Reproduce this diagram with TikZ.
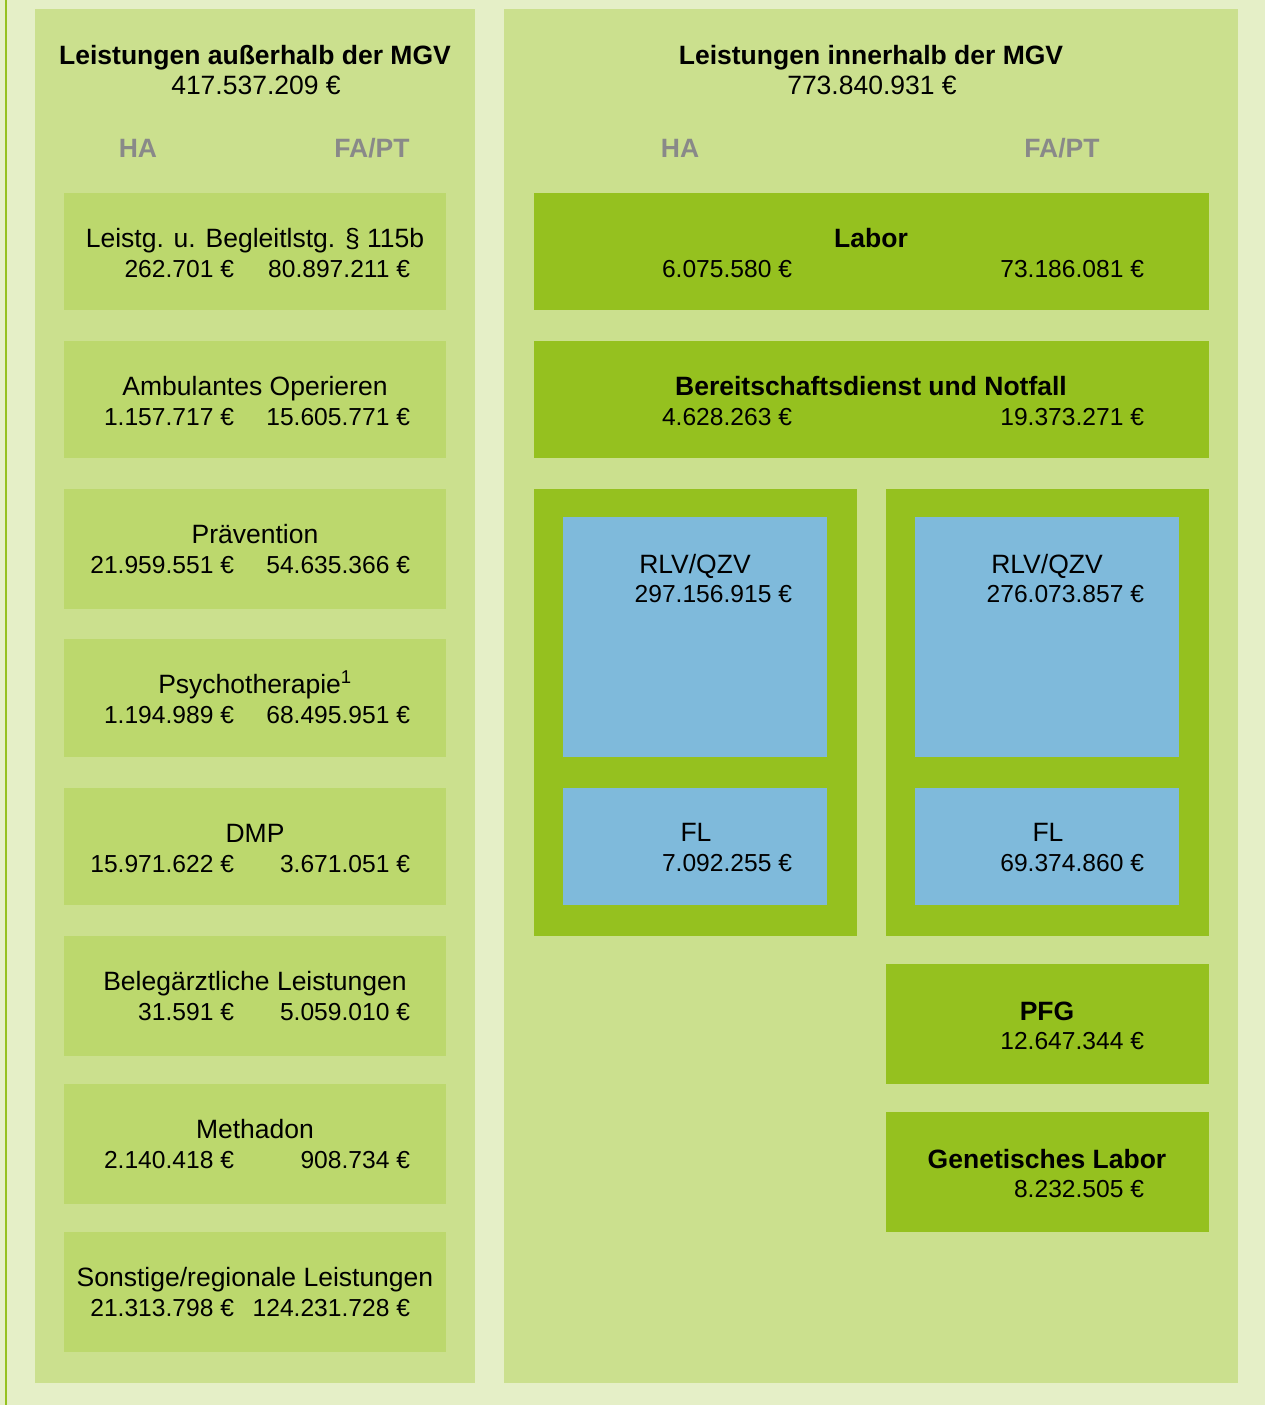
\documentclass[tikz,border=0pt]{standalone}
\usepackage{fontspec}
\setmainfont{Liberation Sans}
\definecolor{outerbg}{HTML}{E5EFC7}
\definecolor{panelbg}{HTML}{CBE08E}
\definecolor{leftbg}{HTML}{BCD86D}
\definecolor{dgreen}{HTML}{95C11F}
\definecolor{lblue}{HTML}{7FBADB}
\definecolor{hgray}{HTML}{898989}
\newcommand\mkleftbox[6]{%
  \node[lbox, minimum height=#3pt] (#1) at (64,#2) {};
  \node[txt, anchor=base] (#1-t) at (255,{#2+54}) {#4};
  \node[vtxt, anchor=base east] (#1-h) at (234,{#2+84}) {#5};
  \node[vtxt, anchor=base east] (#1-f) at (410,{#2+84}) {#6};
}
\begin{document}
\begin{tikzpicture}[x=1pt,y=-1pt,
  every node/.style={font=\fontsize{26.5}{30}\selectfont},
  plain/.style={inner sep=0pt, outer sep=0pt, anchor=north west},
  panel/.style={plain, fill=panelbg},
  lbox/.style={plain, fill=leftbg, minimum width=382pt},
  gbox/.style={plain, fill=dgreen},
  bbox/.style={plain, fill=lblue, minimum width=264pt},
  txt/.style={inner sep=0pt, outer sep=0pt, text=black},
  vtxt/.style={txt, font=\fontsize{24.6}{28}\selectfont},
  btxt/.style={txt, font=\fontsize{26.5}{30}\selectfont\bfseries},
  gtxt/.style={txt, text=hgray, font=\fontsize{26.5}{30}\selectfont\bfseries}]
\useasboundingbox (0,0) rectangle (1265,1405);
\fill[outerbg] (0,0) rectangle (1265,1405);
\fill[dgreen] (5,0) rectangle (7,1405);

% panels
\node[panel, minimum width=440pt, minimum height=1374pt] (lpanel) at (35,9) {};
\node[panel, minimum width=734pt, minimum height=1374pt] (rpanel) at (504,9) {};

% left header
\node[btxt, anchor=base] (lhead) at (255,64) {Leistungen außerhalb der MGV};
\node[txt, anchor=base] (lsum) at (256,95) {417.537.209 €};
\node[gtxt, anchor=base] (lha) at (138,157) {HA};
\node[gtxt, anchor=base] (lfa) at (372,157) {FA/PT};

% right header
\node[btxt, anchor=base] (rhead) at (871,64) {Leistungen innerhalb der MGV};
\node[txt, anchor=base] (rsum) at (872,95) {773.840.931 €};
\node[gtxt, anchor=base] (rha) at (680,157) {HA};
\node[gtxt, anchor=base] (rfa) at (1062,157) {FA/PT};

% left boxes
\mkleftbox{b1}{193}{117}{Leistg. u. Begleitlstg. § 115b}{262.701 €}{80.897.211 €}
\mkleftbox{b2}{341}{117}{Ambulantes Operieren}{1.157.717 €}{15.605.771 €}
\mkleftbox{b3}{489}{120}{Prävention}{21.959.551 €}{54.635.366 €}
\mkleftbox{b4}{639}{118}{Psychotherapie\textsuperscript{1}}{1.194.989 €}{68.495.951 €}
\mkleftbox{b5}{788}{117}{DMP}{15.971.622 €}{3.671.051 €}
\mkleftbox{b6}{936}{120}{Belegärztliche Leistungen}{31.591 €}{5.059.010 €}
\mkleftbox{b7}{1084}{120}{Methadon}{2.140.418 €}{908.734 €}
\mkleftbox{b8}{1232}{120}{Sonstige/regionale Leistungen}{21.313.798 €}{124.231.728 €}

% right: Labor
\node[gbox, minimum width=675pt, minimum height=117pt] (labor) at (534,193) {};
\node[btxt, anchor=base] (labor-t) at (871,247) {Labor};
\node[vtxt, anchor=base east] (labor-h) at (792,277) {6.075.580 €};
\node[vtxt, anchor=base east] (labor-f) at (1144,277) {73.186.081 €};

% right: Bereitschaftsdienst
\node[gbox, minimum width=675pt, minimum height=117pt] (bd) at (534,341) {};
\node[btxt, anchor=base] (bd-t) at (871,395) {Bereitschaftsdienst und Notfall};
\node[vtxt, anchor=base east] (bd-h) at (792,425) {4.628.263 €};
\node[vtxt, anchor=base east] (bd-f) at (1144,425) {19.373.271 €};

% containers
\node[gbox, minimum width=323pt, minimum height=447pt] (hac) at (534,489) {};
\node[gbox, minimum width=323pt, minimum height=447pt] (fac) at (886,489) {};

% HA blue
\node[bbox, minimum height=240pt] (harlv) at (563,517) {};
\node[txt, anchor=base] (harlv-t) at (695,573) {RLV/QZV};
\node[vtxt, anchor=base east] (harlv-v) at (792,602) {297.156.915 €};
\node[bbox, minimum height=117pt] (hafl) at (563,788) {};
\node[txt, anchor=base] (hafl-t) at (696,841) {FL};
\node[vtxt, anchor=base east] (hafl-v) at (792,871) {7.092.255 €};

% FA blue
\node[bbox, minimum height=240pt] (farlv) at (915,517) {};
\node[txt, anchor=base] (farlv-t) at (1047,573) {RLV/QZV};
\node[vtxt, anchor=base east] (farlv-v) at (1144,602) {276.073.857 €};
\node[bbox, minimum height=117pt] (fafl) at (915,788) {};
\node[txt, anchor=base] (fafl-t) at (1048,841) {FL};
\node[vtxt, anchor=base east] (fafl-v) at (1144,871) {69.374.860 €};

% PFG
\node[gbox, minimum width=323pt, minimum height=120pt] (pfg) at (886,964) {};
\node[btxt, anchor=base] (pfg-t) at (1047,1020) {PFG};
\node[vtxt, anchor=base east] (pfg-v) at (1144,1049) {12.647.344 €};

% Genetisches Labor
\node[gbox, minimum width=323pt, minimum height=120pt] (gen) at (886,1112) {};
\node[btxt, anchor=base] (gen-t) at (1047,1168) {Genetisches Labor};
\node[vtxt, anchor=base east] (gen-v) at (1144,1197) {8.232.505 €};
\end{tikzpicture}
\end{document}
